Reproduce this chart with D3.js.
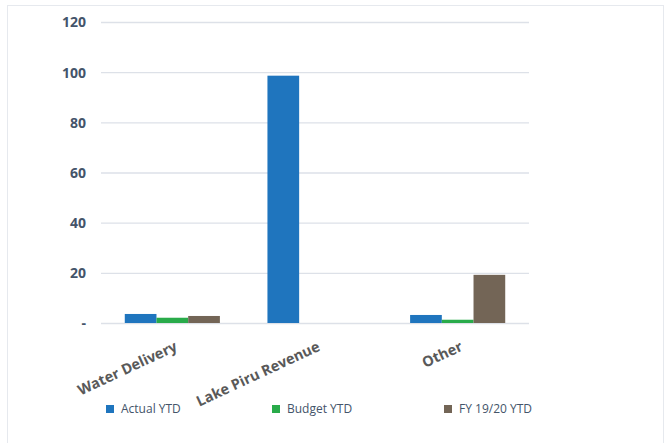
<!DOCTYPE html>
<html><head><meta charset="utf-8">
<script src="https://cdn.jsdelivr.net/npm/d3@7"></script>
<style>body{margin:0;background:#fff}svg{display:block}</style>
</head><body>
<svg id="c" width="665" height="443"></svg>
<script>
const categories = ["Water Delivery", "Lake Piru Revenue", "Other"];
const seriesNames = ["Actual YTD", "Budget YTD", "FY 19/20 YTD"];
const actualYTD = [3.6, 98.6, 3.2];
const budgetYTD = [2.1, 0, 1.3];
const fy1920YTD = [2.8, 0, 19.2];
const tickValues = [0, 20, 40, 60, 80, 100, 120];
const tickLabels = ["-", "20", "40", "60", "80", "100", "120"];
const colors = ["#1F75BE", "#29AB4A", "#736556"];

const series = [actualYTD, budgetYTD, fy1920YTD];
const svg = d3.select("#c");
const font = "'Open Sans', sans-serif";

svg.append("rect").attr("x", 7.5).attr("y", 5.5).attr("width", 656).attr("height", 445)
  .attr("fill", "none").attr("stroke", "#e6e9ee").attr("stroke-width", 1);

const x0 = d3.scaleBand().domain(categories).range([101, 529]).paddingInner(0).paddingOuter(0);
const x1 = d3.scaleBand().domain(seriesNames).range([0, x0.bandwidth()]).paddingInner(0).paddingOuter(0.75);
const y = d3.scaleLinear().domain([0, 120]).range([323, 22]);

const yAxis = d3.axisLeft(y).tickValues(tickValues).tickSize(-(529 - 101)).tickFormat((d, i) => tickLabels[i]);
const gy = svg.append("g").attr("transform", "translate(101,0)").call(yAxis);
gy.select(".domain").remove();
gy.selectAll(".tick line").attr("stroke", "#dde1e8").attr("stroke-width", 1.3);
gy.selectAll(".tick text").attr("x", -15).attr("dy", "0.35em")
  .attr("font-family", font).attr("font-weight", "bold").attr("font-size", 14).attr("fill", "#44546A");

const groups = svg.append("g").selectAll("g").data(categories).join("g")
  .attr("transform", d => `translate(${x0(d)},0)`);
groups.selectAll("rect").data((c, ci) => seriesNames.map((s, si) => ({s, si, v: series[si][ci]})))
  .join("rect")
  .filter(d => d.v > 0)
  .attr("x", d => x1(d.s)).attr("width", x1.bandwidth())
  .attr("y", d => y(d.v)).attr("height", d => y(0) - y(d.v))
  .attr("fill", d => colors[d.si]);

const xAxis = d3.axisBottom(x0).tickSize(0);
const gx = svg.append("g").attr("transform", "translate(0,323)").call(xAxis);
gx.select(".domain").remove();
gx.selectAll(".tick text")
  .attr("font-family", font).attr("font-weight", "bold").attr("font-size", 14.5).attr("fill", "#595959")
  .attr("text-anchor", "end").attr("y", 0).attr("dy", 0)
  .attr("transform", "translate(6,27) rotate(-25)");

const legX = [106, 272, 444];
const leg = svg.append("g").selectAll("g").data(seriesNames).join("g")
  .attr("transform", (d, i) => `translate(${legX[i]},409)`);
leg.append("rect").attr("x", 0).attr("y", -4).attr("width", 8).attr("height", 8).attr("fill", (d, i) => colors[i]);
leg.append("text").attr("x", 15).attr("dy", "0.35em").text(d => d)
  .attr("font-family", font).attr("font-size", 12).attr("fill", "#44546A");
</script>
</body></html>
